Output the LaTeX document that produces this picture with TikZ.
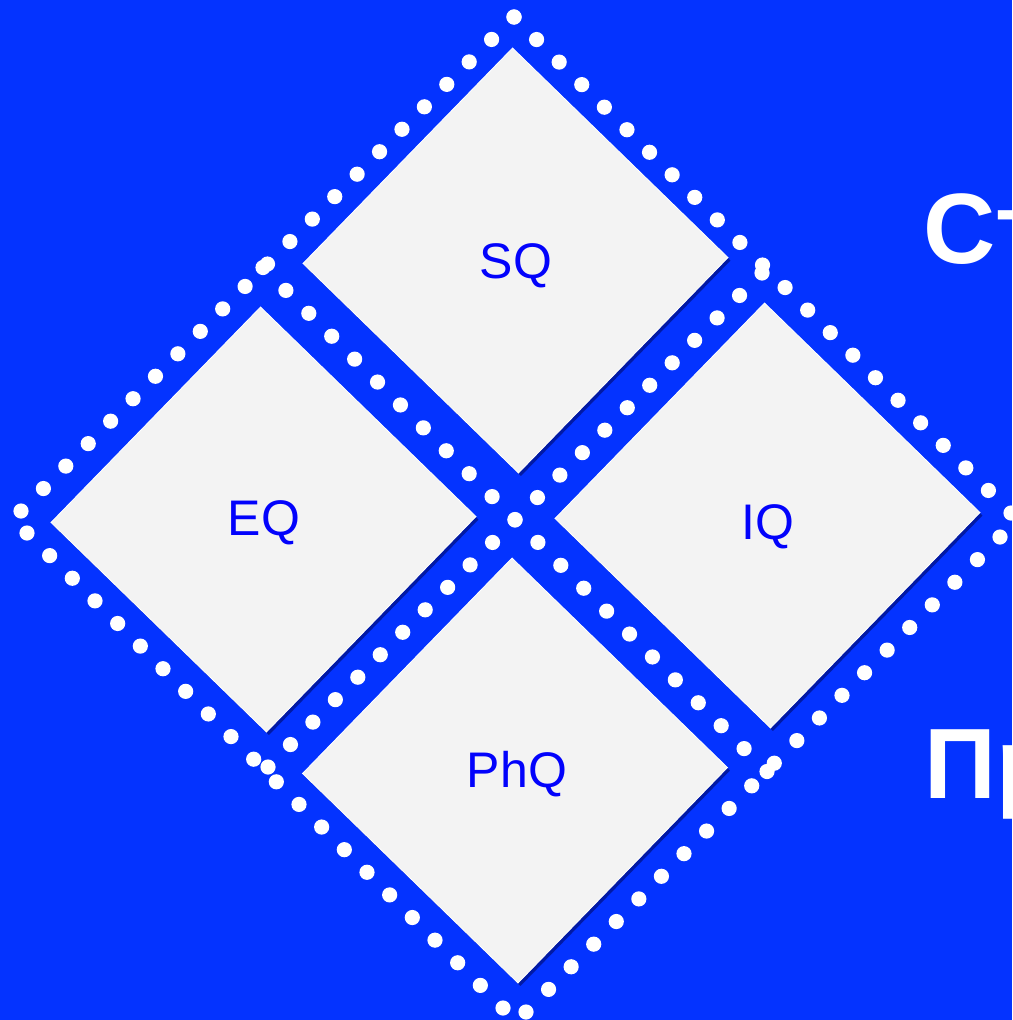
\documentclass[tikz,border=0pt]{standalone}
\usepackage{fontspec}
\setmainfont{Liberation Sans}
\usetikzlibrary{calc,shapes.geometric,shadows}
\definecolor{bg}{RGB}{4,51,255}
\definecolor{tile}{RGB}{243,243,243}
\definecolor{lbl}{RGB}{2,2,252}
\newcommand{\dotrow}[3]{%
  \foreach \ii in {0,...,#3}{\fill[white] ($(#1)!{\ii/#3}!(#2)$) circle[radius=7.6pt];}}
\tikzset{
  tilebox/.style={shape=diamond, aspect=1, minimum width=425pt, minimum height=425pt,
    inner sep=0pt, outer sep=0pt, fill=tile, draw=white, line width=0.8pt, rotate=0.8,
    drop shadow={shadow xshift=2.5pt,shadow yshift=-3pt,opacity=0.5,fill=black!70!blue}},
  tilelabel/.style={text=lbl, font=\fontsize{50}{60}\selectfont, inner sep=0pt, anchor=base},
  bigword/.style={text=white, font=\bfseries\fontsize{100}{110}\selectfont, inner sep=0pt, anchor=base west}
}
\begin{document}
\begin{tikzpicture}[x=1pt,y=-1pt]
\fill[bg] (0,0) rectangle (1012,1020);
\useasboundingbox (0,0) rectangle (1012,1020);

% tiles
\node[tilebox] (sq)  at (515.5,260.5) {};
\node[tilebox] (eq)  at (263.5,519.5) {};
\node[tilebox] (iq)  at (767.5,515.5) {};
\node[tilebox] (phq) at (515,770.5) {};

\node[tilelabel] (sqt)  at (516,278) {SQ};
\node[tilelabel] (eqt)  at (264,535) {EQ};
\node[tilelabel] (iqt)  at (768,539) {IQ};
\node[tilelabel] (phqt) at (517,787) {PhQ};

% dotted frame
\coordinate (top) at (514,17);
\coordinate (lft) at (21,511);
\coordinate (rgt) at (1011,513);
\coordinate (swa) at (27,533);
\coordinate (swb) at (503,1008);
\coordinate (sea) at (526,1012);
\coordinate (seb) at (1000,537);
\coordinate (xa) at (263,267.5);
\coordinate (xb) at (767,771.5);
\coordinate (ya) at (762,273);
\coordinate (yb) at (268,767);

\dotrow{top}{lft}{22}
\dotrow{top}{rgt}{22}
\dotrow{swa}{swb}{21}
\dotrow{sea}{seb}{21}
\dotrow{xa}{xb}{22}
\dotrow{ya}{yb}{22}

% cut-off words
\node[bigword] (w1) at (923,263) {Ст};
\node[bigword] (w2) at (924,798) {Пр};
\end{tikzpicture}
\end{document}
